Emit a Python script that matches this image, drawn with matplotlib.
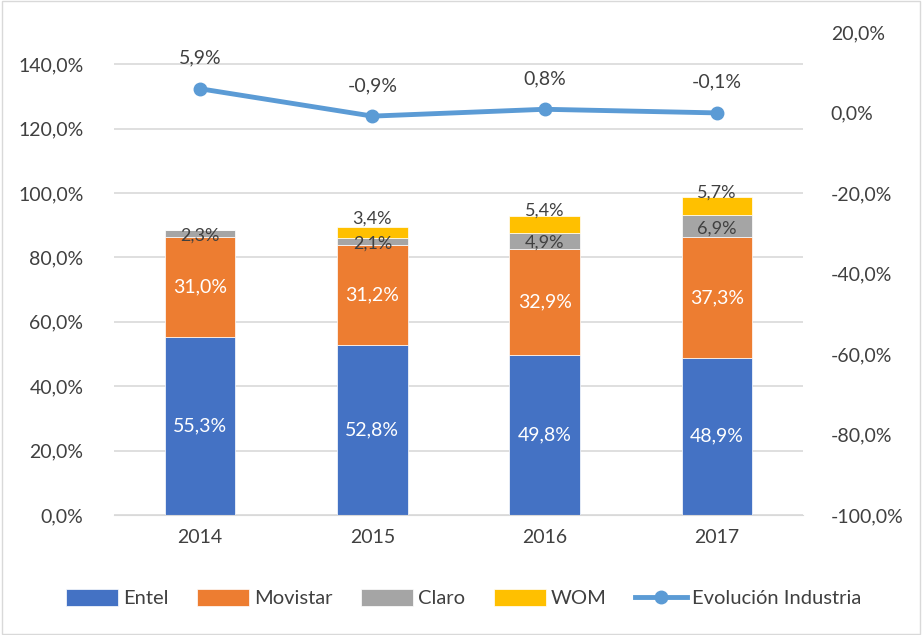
import matplotlib.pyplot as plt
import numpy as np

YEARS = ['2014', '2015', '2016', '2017']
ENTEL = [55.3, 52.8, 49.8, 48.9]
MOVISTAR = [31.0, 31.2, 32.9, 37.3]
CLARO = [2.3, 2.1, 4.9, 6.9]
WOM = [0.0, 3.4, 5.4, 5.7]
INDUSTRIA = [5.9, -0.9, 0.8, -0.1]

COLORS = {'Entel': '#4472C4', 'Movistar': '#ED7D31', 'Claro': '#A5A5A5', 'WOM': '#FFC000'}
LINE_COLOR = '#5B9BD5'
TEXT_COLOR = '#404040'

plt.rcParams['font.family'] = ['Lato', 'DejaVu Sans']


def pct(v):
    return f'{v:.1f}'.replace('.', ',') + '%'


fig = plt.figure(figsize=(9.22, 6.35), dpi=100)
ax = fig.add_axes([0.1236, 0.189, 0.7474, 0.7606])
ax2 = ax.twinx()

x = np.arange(len(YEARS))
width = 0.41
bottom = np.zeros(len(YEARS))
series = [('Entel', ENTEL), ('Movistar', MOVISTAR), ('Claro', CLARO), ('WOM', WOM)]
handles = []
for name, vals in series:
    vals = np.array(vals)
    bars = ax.bar(x, vals, width, bottom=bottom, color=COLORS[name], label=name,
                  edgecolor='white', linewidth=0.5, zorder=2)
    handles.append(bars)
    for i, v in enumerate(vals):
        if v <= 0:
            continue
        yc = bottom[i] + v / 2
        if name in ('Entel', 'Movistar'):
            ax.text(x[i], yc, pct(v), ha='center', va='center', color='white', fontsize=14, zorder=3)
        elif name == 'Claro':
            ax.annotate(pct(v), (x[i], yc), xytext=(0, -1.5), textcoords='offset points',
                        ha='center', va='center', color=TEXT_COLOR, fontsize=13, zorder=3)
        else:
            ax.annotate(pct(v), (x[i], yc), xytext=(0, 9.5), textcoords='offset points',
                        ha='center', va='center', color=TEXT_COLOR, fontsize=13, zorder=3)
    bottom += vals

line, = ax2.plot(x, INDUSTRIA, color=LINE_COLOR, linewidth=3.5, marker='o', markersize=9,
                 label='Evolución Industria', zorder=4)
for i, v in enumerate(INDUSTRIA):
    ax2.annotate(pct(v), (x[i], v), xytext=(0, 22), textcoords='offset points',
                 ha='center', va='center', color=TEXT_COLOR, fontsize=14)

ax.set_xlim(-0.5, len(YEARS) - 0.5)
ax.set_ylim(0, 150)
ax.set_yticks(np.arange(0, 141, 20))
ax.set_yticklabels([pct(v) for v in np.arange(0, 141, 20)])
ax2.set_ylim(-100, 20)
ax2.set_yticks(np.arange(-100, 21, 20))
ax2.set_yticklabels([pct(v) for v in np.arange(-100, 21, 20)])
ax.set_xticks(x)
ax.set_xticklabels(YEARS)

ax.grid(axis='y', color='#D9D9D9', linewidth=1.2, zorder=0)
ax.set_axisbelow(True)
for a in (ax, ax2):
    for s in a.spines.values():
        s.set_visible(False)
    a.tick_params(length=0, labelsize=14, labelcolor=TEXT_COLOR)
ax.tick_params(axis='y', pad=22)
ax2.tick_params(axis='y', pad=20)
ax.tick_params(axis='x', pad=10)
ax.spines['bottom'].set_visible(True)
ax.spines['bottom'].set_color('#D9D9D9')

fig.legend(handles + [line], ['Entel', 'Movistar', 'Claro', 'WOM', 'Evolución Industria'],
           loc='center', bbox_to_anchor=(0.503, 0.058), ncol=5, frameon=False, fontsize=14.5,
           labelcolor=TEXT_COLOR, handlelength=2.6, handleheight=0.9, handletextpad=0.25,
           columnspacing=1.4)

fig.patches.append(plt.Rectangle((0.002, 0.002), 0.996, 0.996, transform=fig.transFigure,
                                 fill=False, edgecolor='#D9D9D9', linewidth=1))

fig.savefig('out.png', dpi=100)
